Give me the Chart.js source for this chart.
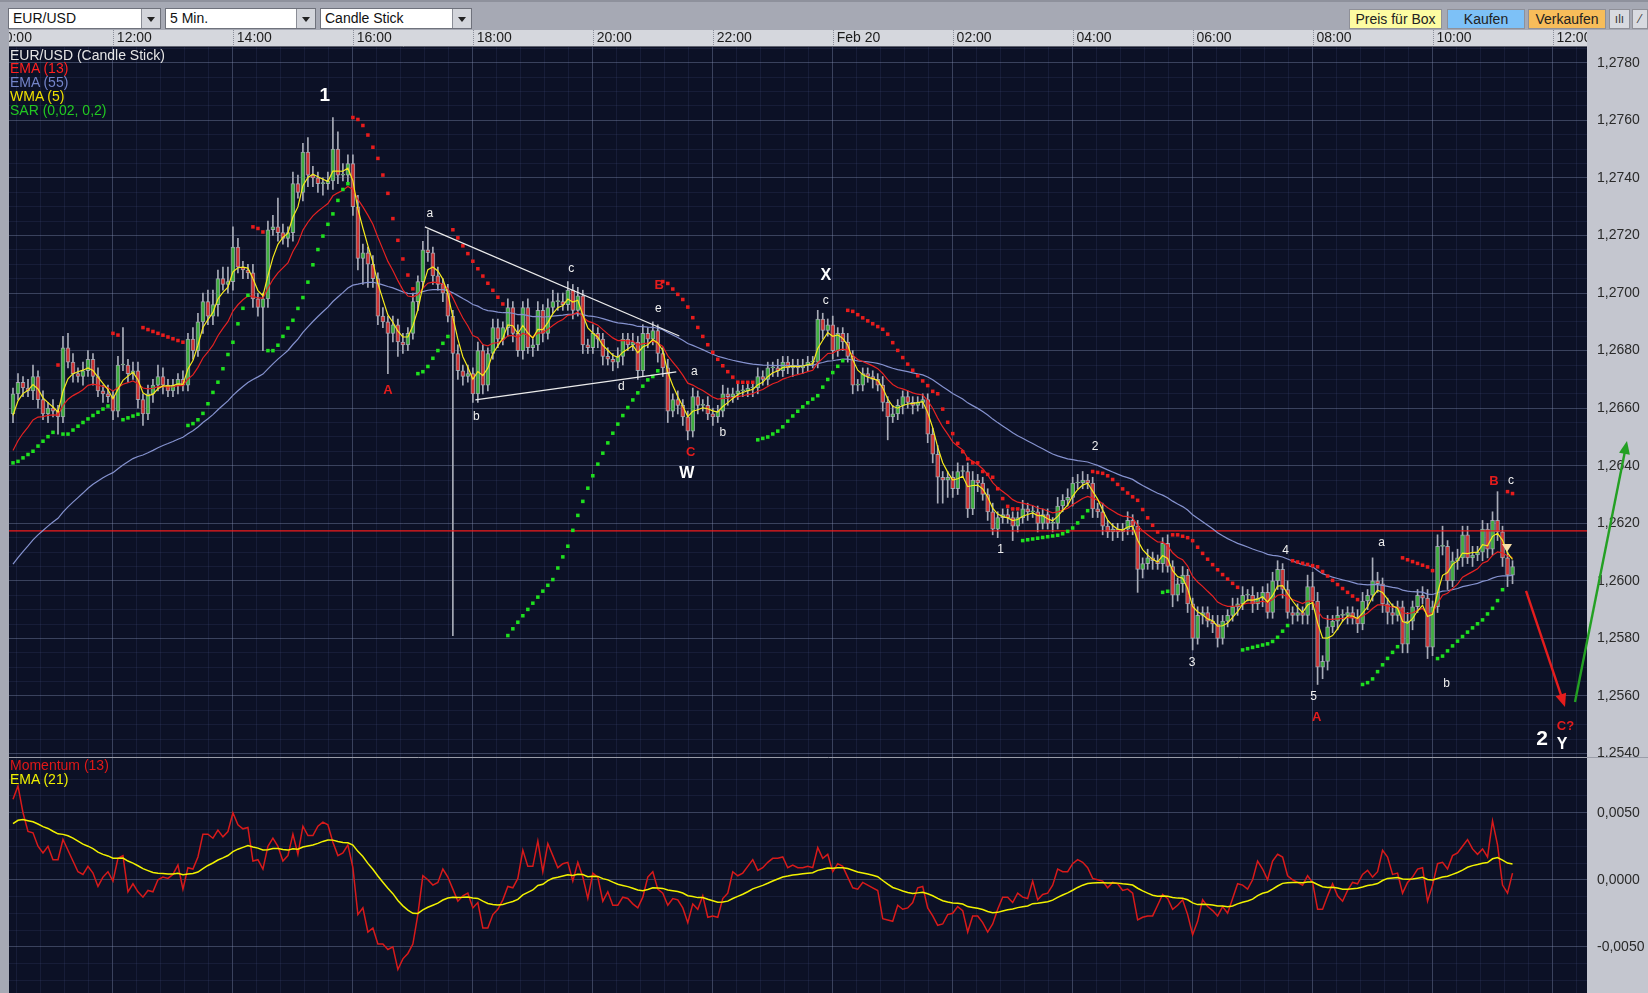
<!DOCTYPE html>
<html><head><meta charset="utf-8">
<script src="https://cdn.jsdelivr.net/npm/chart.js@4.4.1/dist/chart.umd.min.js"></script>
<style>
html,body{margin:0;padding:0;overflow:hidden;background:#a6a9b4;}
body{width:1648px;height:993px;position:relative;font-family:"Liberation Sans",Arial,sans-serif;}
#toolbar{position:absolute;left:0;top:0;width:1648px;height:30px;background:#a6a9b4;border-top:2px solid #8e919c;box-sizing:border-box;}
.dd{position:absolute;top:6px;height:21px;background:#fff;border:1px solid #6f727c;box-sizing:border-box;font-size:14px;line-height:19px;padding-left:4px;color:#111;}
.dd .btn{position:absolute;right:0;top:0;width:18px;height:19px;background:#d3d5db;border-left:1px solid #8a8d96;}
.dd .btn:after{content:"";position:absolute;left:5px;top:8px;border-left:4px solid transparent;border-right:4px solid transparent;border-top:5px solid #222;}
.bt{position:absolute;top:7px;height:20px;box-sizing:border-box;border:1px solid #8f9098;font-size:14px;line-height:18px;text-align:center;color:#222;}
.ic{position:absolute;top:7px;height:20px;box-sizing:border-box;border:1px solid #8f9098;background:#d8dae0;font-size:12px;line-height:18px;text-align:center;color:#333;}
canvas{position:absolute;left:0;}
#c1{top:30px;}
#c2{top:757px;}
.lg{position:absolute;left:10px;font-size:14px;line-height:16px;white-space:nowrap;z-index:5;}
</style></head>
<body>
<div id="toolbar">
  <div class="dd" style="left:8px;width:153px;">EUR/USD<div class="btn"></div></div>
  <div class="dd" style="left:165px;width:151px;">5 Min.<div class="btn"></div></div>
  <div class="dd" style="left:320px;width:152px;">Candle Stick<div class="btn"></div></div>
  <div class="bt" style="left:1349px;width:93px;background:#fdfca2;">Preis für Box</div>
  <div class="bt" style="left:1447px;width:78px;background:#7dc1f7;">Kaufen</div>
  <div class="bt" style="left:1528px;width:78px;background:#f7bd5a;">Verkaufen</div>
  <div class="ic" style="left:1609px;width:21px;">ılı</div>
  <div class="ic" style="left:1632px;width:16px;">⁄</div>
</div>
<canvas id="c1" width="1648" height="727"></canvas>
<canvas id="c2" width="1648" height="236"></canvas>
<div class="lg" style="top:47px;color:#e6e6e6;">EUR/USD (Candle Stick)</div>
<div class="lg" style="top:60px;color:#ff2020;">EMA (13)</div>
<div class="lg" style="top:74px;color:#7484c8;">EMA (55)</div>
<div class="lg" style="top:88px;color:#f0e000;">WMA (5)</div>
<div class="lg" style="top:102px;color:#22c822;">SAR (0,02, 0,2)</div>
<div class="lg" style="top:757px;color:#e01818;">Momentum (13)</div>
<div class="lg" style="top:771px;color:#f0f000;">EMA (21)</div>
<script>
// ---------------- DATA (prices in pips above 1.2500) ----------------
const PIP_BASE = 1.25;
const firstBar = 4; // first candle = 10:20 (bars counted in 5-min steps from 10:00)
const preCloses = [105,99,117,130,136,138,138,135,144,142,151,154,158]; // 09:15..10:15
const closes = [
165,169,167,166,171,163,158,160,159,157,
181,176,172,171,173,177,171,166,165,164,
159,175,175,172,173,163,158,165,168,171,
168,166,168,170,168,184,180,190,197,192,
196,205,203,204,216,209,208,207,198,195,
198,222,223,221,219,221,238,235,249,241,
240,238,238,239,250,241,241,245,230,212,
214,210,205,192,190,186,189,183,182,186,
197,204,215,214,206,203,200,192,179,173,
171,172,165,180,168,179,188,184,188,195,
186,180,195,181,182,194,186,195,197,197,
196,201,194,199,182,181,186,184,178,177,
176,178,184,182,183,173,186,184,187,179,
174,159,163,161,157,152,164,161,161,158,
157,159,165,164,165,166,166,167,167,171,
170,174,174,173,176,174,175,174,175,176,
176,191,187,189,180,186,183,178,168,168,
172,171,170,168,162,157,158,161,164,162,
161,162,163,151,144,136,135,136,132,138,
138,125,135,134,130,124,118,122,123,122,
119,122,125,124,124,120,123,120,120,126,
128,129,134,134,135,134,125,124,119,117,
118,117,118,121,119,104,106,108,107,106,
113,105,95,99,102,92,80,88,89,86,
85,80,86,88,91,92,95,95,92,94,
96,89,100,104,97,89,88,89,88,98,
93,70,72,84,86,88,88,89,87,85,
93,95,100,99,92,89,88,91,78,86,
91,95,94,77,91,112,112,100,107,108,
116,108,109,110,118,111,121,117,108,102,
105];
const wickUp = [
2,3,2,3,4,2,3,2,3,2, 4,5,3,2,3,3,2,3,2,3, 2,3,13,2,3,3,2,3,2,4, 3,2,2,2,3,2,4,3,3,4,
5,3,4,5,7,3,2,2,3,2, 2,3,4,10,3,2,4,3,3,5, 3,2,2,3,11,6,4,3,3,4, 3,2,3,2,3,2,3,2,3,2,
3,2,3,7,2,3,2,3,2,3, 2,3,2,3,2,2,3,3,2,3, 2,3,2,3,2,3,2,3,4,3, 3,3,2,3,2,2,3,2,2,3,
2,3,2,2,3,2,3,2,3,2, 2,3,2,3,2,2,3,2,2,3, 2,2,3,2,2,3,2,2,2,3, 2,2,2,3,2,2,2,2,2,2,
2,3,2,2,3,2,2,3,2,2, 2,2,2,2,3,2,3,2,2,2, 2,2,2,2,2,3,2,2,2,3, 2,3,3,2,2,2,3,2,2,2,
2,2,3,2,2,2,2,2,2,3, 2,3,2,3,3,2,2,2,3,2, 2,2,2,3,2,2,2,3,2,2, 2,3,2,2,3,2,2,3,2,2,
2,3,2,2,3,2,3,2,3,2, 2,3,3,3,2,3,2,3,2,4, 5,3,2,4,2,3,2,2,2,3, 3,2,8,3,2,2,3,2,2,3,
2,2,3,3,2,4,7,2,3,3, 3,3,3,2,3,2,3,10,2,2, 2];
const wickDown = [
3,2,3,2,3,3,2,3,2,6, 2,2,3,2,3,2,3,2,3,2, 3,2,2,3,2,3,4,2,3,2, 3,2,2,3,2,2,3,2,4,3,
3,4,2,3,3,2,3,2,3,3, 15,3,2,3,2,3,3,2,3,4, 3,3,4,2,3,3,2,3,3,4, 9,8,3,3,2,14,3,5,3,2,
2,3,2,3,3,2,3,2,98,3, 3,2,3,3,3,2,2,3,2,3, 3,2,3,2,3,2,3,2,2,3, 2,2,3,2,3,2,2,3,3,2,
3,2,3,2,2,3,2,3,2,3, 3,4,2,3,3,3,2,3,2,2, 3,2,2,3,2,2,2,2,3,2, 2,2,3,2,2,2,3,2,2,2,
2,2,3,2,3,2,3,2,3,2, 2,2,3,2,3,8,2,2,3,2, 3,2,2,3,3,9,8,6,3,2, 2,3,2,3,2,3,2,3,2,2,
5,2,2,3,2,3,2,2,3,2, 2,2,3,2,2,2,3,2,3,2, 3,2,3,2,3,8,3,2,3,2, 3,2,4,2,3,3,4,2,3,2,
3,3,2,2,2,3,2,2,3,2, 3,2,2,3,3,2,3,2,3,3, 3,6,4,3,2,3,2,3,2,3, 2,3,2,3,3,4,3,2,3,3,
3,2,2,4,3,2,3,3,2,3, 3,2,3,2,3,3,2,3,3,4, 3];
// indicator start values read at the left edge
const ema13Start = 142, ema55Start = 103.6, momEma21Start = 40, sarStart = 141;
const supportLevel = 1.26174;
const timeTickLabels = ['10:00','12:00','14:00','16:00','18:00','20:00','22:00','Feb 20','02:00','04:00','06:00','08:00','10:00','12:00'];
const priceTicks = [1.2540,1.2560,1.2580,1.2600,1.2620,1.2640,1.2660,1.2680,1.2700,1.2720,1.2740,1.2760,1.2780];
const momentumTicks = [-0.0050, 0.0000, 0.0050];
// annotations (bar index, price in pips)
const waveLabels = [
 {t:'1',i:66.4,p:268.5,k:'one'},{t:'A',i:79,p:166,k:'red'},{t:'a',i:87.4,p:227.5,k:'small'},
 {t:'b',i:96.7,p:157,k:'small'},{t:'c',i:115.7,p:208.4,k:'small'},{t:'B',i:133.3,p:202.5,k:'red'},
 {t:'e',i:133.1,p:194.5,k:'small'},{t:'d',i:125.7,p:167.4,k:'small'},{t:'a',i:140.3,p:172.6,k:'small'},
 {t:'b',i:146,p:151.4,k:'small'},{t:'C',i:139.6,p:144.5,k:'red'},{t:'W',i:138.8,p:137.2,k:'big'},
 {t:'X',i:166.6,p:206,k:'big'},{t:'c',i:166.6,p:197.3,k:'small'},{t:'1',i:201.6,p:110.8,k:'small'},
 {t:'2',i:220.5,p:146.6,k:'small'},{t:'3',i:239.9,p:71.5,k:'small'},{t:'4',i:258.6,p:110.4,k:'small'},
 {t:'5',i:264.2,p:59.7,k:'small'},{t:'A',i:264.8,p:52.7,k:'red'},{t:'a',i:277.8,p:113.2,k:'small'},
 {t:'b',i:290.8,p:64.2,k:'small'},{t:'B',i:300.3,p:134.7,k:'red'},{t:'c',i:303.7,p:134.7,k:'small'},
 {t:'C?',i:314.6,p:49.5,k:'red'},{t:'2',i:309.9,p:45,k:'two'},{t:'Y',i:313.9,p:43.2,k:'y'}
];
const trendLines = [ [[86.4,223],[137.3,185.1]], [[96.5,162.9],[136.7,172.6]] ];
const arrows = [ {from:[306.7,96.5],to:[314.5,56.2],k:'down'}, {from:[316.5,57.9],to:[326.9,148.6],k:'up'} ];
const sellMarker = {i:302.9,p:111.4};

// ---------------- derived series ----------------
const toPips = v => Math.round((v - PIP_BASE) * 1e6) / 100;
const n = closes.length;
const allC = preCloses.concat(closes); const OFF = preCloses.length;
const bars = []; let prev = preCloses[OFF-1];
for (let k=0;k<n;k++){ const o=prev,c=closes[k]; bars.push({x:firstBar+k,o,c,hi:Math.max(o,c)+wickUp[k],lo:Math.min(o,c)-wickDown[k]}); prev=c; }
function ema(vals,start,period){ const a=2/(period+1); let e=start; return vals.map(v=> (e = e + a*(v-e))); }
const ema13 = ema(closes, ema13Start, 13), ema55 = ema(closes, ema55Start, 55);
const wma5 = closes.map((c,k)=>{ const j=k+OFF; return (5*allC[j]+4*allC[j-1]+3*allC[j-2]+2*allC[j-3]+allC[j-4])/15; });
const mom = closes.map((c,k)=> allC[k+OFF] - allC[k+OFF-13]);
const momEma = ema(mom, momEma21Start, 21);
const sar = []; { let up=true, s=sarStart, ep=bars[0].hi, af=0.02; sar.push({s,up});
 for (let k=1;k<n;k++){ s = s + af*(ep-s); const b=bars[k];
  if (up){ s=Math.min(s,bars[k-1].lo,k>1?bars[k-2].lo:bars[k-1].lo);
   if (b.lo < s){ up=false; s=ep; ep=b.lo; af=0.02; } else if (b.hi>ep){ ep=b.hi; af=Math.min(af+0.02,0.2); } }
  else { s=Math.max(s,bars[k-1].hi,k>1?bars[k-2].hi:bars[k-1].hi);
   if (b.hi > s){ up=true; s=ep; ep=b.hi; af=0.02; } else if (b.lo<ep){ ep=b.lo; af=Math.min(af+0.02,0.2); } }
  sar.push({s,up}); } }
const xy = (arr) => arr.map((v,k)=>({x:firstBar+k,y:v}));

// ---------------- styles ----------------
const FONT = '"Liberation Sans", Arial, sans-serif';
Chart.defaults.font.family = FONT;
const TOOLBAR='#a6a9b4', PANEL='#c4c6cf', STRIP='#d5d7dd', NAVY='#0c1126';
const GRID_MAJ='rgba(125,135,170,0.42)', GRID_MIN='rgba(70,82,130,0.20)';
const XMIN=3.2, XMAX=318.9;
const xTickVals=[]; for(let k=0;k<=66;k++) xTickVals.push(+(k*4.8).toFixed(3));
const isMajX = v => Math.abs(v/24 - Math.round(v/24)) < 1e-6;
const yTickVals=[]; for(let v=40;v<=285;v+=5) yTickVals.push(v);
const majorPriceP = priceTicks.map(toPips);
const isMajY = v => majorPriceP.some(p=>Math.abs(p-v)<1e-6);
const momTickP = momentumTicks.map(v=>Math.round(v*1e6)/100);
const mTickVals=[]; for(let v=-75;v<=75;v+=12.5) mTickVals.push(v);
const isMajM = v => momTickP.some(p=>Math.abs(p-v)<1e-6);
const lblStyle = {
 one:{f:'bold 19px '+FONT,c:'#ffffff'}, big:{f:'bold 16px '+FONT,c:'#ffffff'}, red:{f:'bold 13px '+FONT,c:'#e41c1c'},
 small:{f:'12px '+FONT,c:'#f0f0f0'}, two:{f:'bold 21px '+FONT,c:'#ffffff'}, y:{f:'bold 16px '+FONT,c:'#ffffff'}
};
const arrowStyle = { down:'#e51d1d', up:'#23a023' };
const noPad = s => { s.paddingLeft=0; s.paddingRight=0; s.paddingTop=0; s.paddingBottom=0; };
const xScaleBase = { type:'linear', min:XMIN, max:XMAX, offset:false,
  afterBuildTicks: s => { s.ticks = xTickVals.map(v=>({value:v})); },
  grid:{ offset:false, drawTicks:false, lineWidth:1, color: c => (c.tick && isMajX(c.tick.value)) ? GRID_MAJ : GRID_MIN },
  border:{display:false} };

function drawArrow(ctx,x1,y1,x2,y2,color){ const a=Math.atan2(y2-y1,x2-x1), hl=13, hw=5.5;
 ctx.strokeStyle=color; ctx.fillStyle=color; ctx.lineWidth=2.4; ctx.beginPath(); ctx.moveTo(x1,y1);
 ctx.lineTo(x2-hl*0.8*Math.cos(a), y2-hl*0.8*Math.sin(a)); ctx.stroke();
 ctx.beginPath(); ctx.moveTo(x2,y2);
 ctx.lineTo(x2-hl*Math.cos(a)+hw*Math.sin(a), y2-hl*Math.sin(a)-hw*Math.cos(a));
 ctx.lineTo(x2-hl*Math.cos(a)-hw*Math.sin(a), y2-hl*Math.sin(a)+hw*Math.cos(a)); ctx.closePath(); ctx.fill(); }

const mainFrame = { id:'mainFrame',
 beforeDraw(chart){ const {ctx,width,height,chartArea:a}=chart; const xs=chart.scales.x; ctx.save();
  ctx.fillStyle=PANEL; ctx.fillRect(a.right,0,width-a.right,height);
  ctx.fillStyle=TOOLBAR; ctx.fillRect(0,0,a.left,height);
  ctx.fillStyle=NAVY; ctx.fillRect(a.left,a.top,a.right-a.left,height-a.top);
  ctx.fillStyle=STRIP; ctx.fillRect(a.left,0,a.right-a.left,a.top);
  ctx.strokeStyle='#5f6270'; ctx.lineWidth=1; ctx.beginPath(); ctx.moveTo(a.left,a.top-0.5); ctx.lineTo(a.right,a.top-0.5); ctx.stroke();
  ctx.strokeStyle='#8a8d98'; ctx.setLineDash([1,1]);
  xTickVals.filter(isMajX).forEach(v=>{ const px=Math.round(xs.getPixelForValue(v))+0.5; ctx.beginPath(); ctx.moveTo(px,0); ctx.lineTo(px,a.top-1); ctx.stroke(); });
  ctx.setLineDash([]); ctx.restore(); },
 afterDatasetsDraw(chart){ const {ctx}=chart; const xs=chart.scales.x, ys=chart.scales.y; ctx.save();
  ctx.textAlign='center'; ctx.textBaseline='middle';
  waveLabels.forEach(l=>{ const st=lblStyle[l.k]; ctx.font=st.f; ctx.fillStyle=st.c; ctx.fillText(l.t, xs.getPixelForValue(l.i), ys.getPixelForValue(l.p)); });
  const mx=xs.getPixelForValue(sellMarker.i), my=ys.getPixelForValue(sellMarker.p);
  ctx.fillStyle='#f7dfa6'; ctx.beginPath(); ctx.moveTo(mx-5,my-4); ctx.lineTo(mx+5,my-4); ctx.lineTo(mx,my+4); ctx.closePath(); ctx.fill();
  ctx.restore(); },
 afterDraw(chart){ const {ctx,width,chartArea:a}=chart; const xs=chart.scales.x, ys=chart.scales.y; ctx.save();
  ctx.fillStyle=TOOLBAR; ctx.fillRect(0,0,a.left,a.top);
  ctx.fillStyle=PANEL; ctx.fillRect(a.right,0,width-a.right,a.top);
  arrows.forEach(ar=> drawArrow(ctx, xs.getPixelForValue(ar.from[0]), ys.getPixelForValue(ar.from[1]), xs.getPixelForValue(ar.to[0]), ys.getPixelForValue(ar.to[1]), arrowStyle[ar.k]));
  ctx.restore(); } };

const lowerFrame = { id:'lowerFrame',
 beforeDraw(chart){ const {ctx,width,height,chartArea:a}=chart; ctx.save();
  ctx.fillStyle=PANEL; ctx.fillRect(a.right,0,width-a.right,height);
  ctx.fillStyle=TOOLBAR; ctx.fillRect(0,0,a.left,height);
  ctx.fillStyle=NAVY; ctx.fillRect(a.left,0,a.right-a.left,height); ctx.restore(); },
 afterDraw(chart){ const {ctx,width}=chart; ctx.save(); ctx.strokeStyle='#9a9da8'; ctx.lineWidth=1;
  ctx.beginPath(); ctx.moveTo(9,0.5); ctx.lineTo(width,0.5); ctx.stroke(); ctx.restore(); } };

const GREEN='#3fae3f', RED='#cf3434';
const lineDs = (data,color,w,order)=>({type:'line',data,borderColor:color,borderWidth:w,pointRadius:0,tension:0,order,fill:false});
new Chart(document.getElementById('c1'), {
 type:'bar',
 data:{ datasets:[
  {type:'bar',data:bars.map(b=>({x:b.x,y:[b.lo,b.hi]})),backgroundColor:'#a8acb8',barThickness:1,grouped:false,order:20},
  {type:'bar',data:bars.map(b=>({x:b.x,y:[b.o,b.c]})),backgroundColor:bars.map(b=>b.c>=b.o?GREEN:RED),borderColor:'rgba(172,176,188,0.85)',borderWidth:1,borderSkipped:false,barThickness:4,minBarLength:1,grouped:false,order:19},
  lineDs([{x:XMIN,y:toPips(supportLevel)},{x:XMAX,y:toPips(supportLevel)}],'#f01c1c',1.3,18),
  lineDs(xy(ema55),'#8592cf',1.2,8),
  lineDs(xy(ema13),'#e52222',1.2,7),
  lineDs(xy(wma5),'#f6ea1c',1.2,6),
  {type:'line',showLine:false,data:sar.map((s,k)=>s.up?{x:firstBar+k,y:s.s}:null).filter(Boolean),pointStyle:'rect',pointRadius:2.5,pointBorderWidth:0,pointBackgroundColor:'#1fe01f',order:5},
  {type:'line',showLine:false,data:sar.map((s,k)=>!s.up?{x:firstBar+k,y:s.s}:null).filter(Boolean),pointStyle:'rect',pointRadius:2.5,pointBorderWidth:0,pointBackgroundColor:'#e81c1c',order:5},
  ...trendLines.map(t=>lineDs(t.map(p=>({x:p[0],y:p[1]})),'#ececec',1.2,4))
 ]},
 options:{ responsive:false, animation:false, events:[], parsing:true,
  layout:{autoPadding:false,padding:{left:9,right:0,top:0,bottom:0}},
  plugins:{legend:{display:false},tooltip:{enabled:false}},
  scales:{
   x:Object.assign({},xScaleBase,{position:'top', afterFit:s=>{s.height=17; noPad(s);},
     ticks:{autoSkip:false,maxRotation:0,minRotation:0,align:'start',padding:0,color:'#1c1c1c',font:{size:14,family:FONT},
       callback:v=> isMajX(v) ? ' '+timeTickLabels[Math.round(v/24)] : ''}}),
   y:{type:'linear',position:'right',min:38.8,max:285.5,
     afterBuildTicks:s=>{ s.ticks=yTickVals.map(v=>({value:v})); }, afterFit:s=>{s.width=61; noPad(s);},
     ticks:{padding:10,color:'#2a2a2a',font:{size:14,family:FONT},autoSkip:false,
       callback:v=>{ const k=majorPriceP.findIndex(p=>Math.abs(p-v)<1e-6); return k>=0 ? priceTicks[k].toFixed(4).replace('.',',') : ''; }},
     grid:{drawTicks:false,color:c=>(c.tick&&isMajY(c.tick.value))?GRID_MAJ:GRID_MIN}, border:{display:false}}
  }},
 plugins:[mainFrame]
});
new Chart(document.getElementById('c2'), {
 type:'line',
 data:{ datasets:[
  lineDs(xy(mom),'#d81a1a',1.5,2),
  lineDs(xy(momEma),'#f2f200',1.5,1)
 ]},
 options:{ responsive:false, animation:false, events:[],
  layout:{autoPadding:false,padding:{left:9,right:0,top:0,bottom:0}},
  plugins:{legend:{display:false},tooltip:{enabled:false}},
  scales:{
   x:Object.assign({},xScaleBase,{position:'bottom',ticks:{display:false}, afterFit:s=>{s.height=0; noPad(s);}}),
   y:{type:'linear',position:'right',min:-84.5,max:91.6,
     afterBuildTicks:s=>{ s.ticks=mTickVals.map(v=>({value:v})); }, afterFit:s=>{s.width=61; noPad(s);},
     ticks:{padding:10,color:'#2a2a2a',font:{size:14,family:FONT},autoSkip:false,
       callback:v=>{ const k=momTickP.findIndex(p=>Math.abs(p-v)<1e-6); return k>=0 ? momentumTicks[k].toFixed(4).replace('.',',') : ''; }},
     grid:{drawTicks:false,color:c=>(c.tick&&isMajM(c.tick.value))?GRID_MAJ:GRID_MIN}, border:{display:false}}
  }},
 plugins:[lowerFrame]
});
</script>
</body></html>
